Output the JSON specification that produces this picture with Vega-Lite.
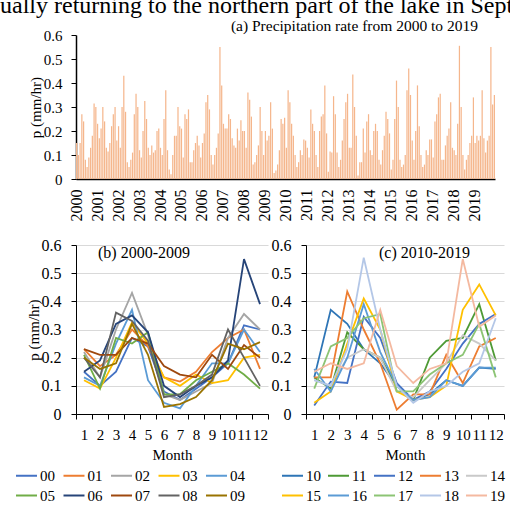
{
"$schema": "https://vega.github.io/schema/vega-lite/v6.json",
"padding": {"left": 0, "top": -7, "right": 0, "bottom": 0},
"title": {"text": "ually returning to the northern part of the lake in Sept", "anchor": "start", "fontSize": 24, "fontWeight": "normal", "font": "Liberation Serif", "color": "black", "offset": 1, "dx": -15},
"datasets": {"rain": [
{"d":"2000-01","y":"00","m":1,"p":0.15},{"d":"2000-02","y":"00","m":2,"p":0.10},{"d":"2000-03","y":"00","m":3,"p":0.15},{"d":"2000-04","y":"00","m":4,"p":0.27},{"d":"2000-05","y":"00","m":5,"p":0.24},{"d":"2000-06","y":"00","m":6,"p":0.08},{"d":"2000-07","y":"00","m":7,"p":0.05},{"d":"2000-08","y":"00","m":8,"p":0.09},{"d":"2000-09","y":"00","m":9,"p":0.13},{"d":"2000-10","y":"00","m":10,"p":0.18},{"d":"2000-11","y":"00","m":11,"p":0.315},{"d":"2000-12","y":"00","m":12,"p":0.30},
{"d":"2001-01","y":"01","m":1,"p":0.23},{"d":"2001-02","y":"01","m":2,"p":0.17},{"d":"2001-03","y":"01","m":3,"p":0.21},{"d":"2001-04","y":"01","m":4,"p":0.30},{"d":"2001-05","y":"01","m":5,"p":0.24},{"d":"2001-06","y":"01","m":6,"p":0.13},{"d":"2001-07","y":"01","m":7,"p":0.115},{"d":"2001-08","y":"01","m":8,"p":0.15},{"d":"2001-09","y":"01","m":9,"p":0.22},{"d":"2001-10","y":"01","m":10,"p":0.27},{"d":"2001-11","y":"01","m":11,"p":0.30},{"d":"2001-12","y":"01","m":12,"p":0.16},
{"d":"2002-01","y":"02","m":1,"p":0.22},{"d":"2002-02","y":"02","m":2,"p":0.13},{"d":"2002-03","y":"02","m":3,"p":0.30},{"d":"2002-04","y":"02","m":4,"p":0.43},{"d":"2002-05","y":"02","m":5,"p":0.28},{"d":"2002-06","y":"02","m":6,"p":0.07},{"d":"2002-07","y":"02","m":7,"p":0.05},{"d":"2002-08","y":"02","m":8,"p":0.08},{"d":"2002-09","y":"02","m":9,"p":0.11},{"d":"2002-10","y":"02","m":10,"p":0.27},{"d":"2002-11","y":"02","m":11,"p":0.355},{"d":"2002-12","y":"02","m":12,"p":0.30},
{"d":"2003-01","y":"03","m":1,"p":0.12},{"d":"2003-02","y":"03","m":2,"p":0.09},{"d":"2003-03","y":"03","m":3,"p":0.20},{"d":"2003-04","y":"03","m":4,"p":0.325},{"d":"2003-05","y":"03","m":5,"p":0.25},{"d":"2003-06","y":"03","m":6,"p":0.13},{"d":"2003-07","y":"03","m":7,"p":0.10},{"d":"2003-08","y":"03","m":8,"p":0.14},{"d":"2003-09","y":"03","m":9,"p":0.11},{"d":"2003-10","y":"03","m":10,"p":0.12},{"d":"2003-11","y":"03","m":11,"p":0.20},{"d":"2003-12","y":"03","m":12,"p":0.21},
{"d":"2004-01","y":"04","m":1,"p":0.13},{"d":"2004-02","y":"04","m":2,"p":0.10},{"d":"2004-03","y":"04","m":3,"p":0.25},{"d":"2004-04","y":"04","m":4,"p":0.37},{"d":"2004-05","y":"04","m":5,"p":0.12},{"d":"2004-06","y":"04","m":6,"p":0.04},{"d":"2004-07","y":"04","m":7,"p":0.02},{"d":"2004-08","y":"04","m":8,"p":0.10},{"d":"2004-09","y":"04","m":9,"p":0.18},{"d":"2004-10","y":"04","m":10,"p":0.18},{"d":"2004-11","y":"04","m":11,"p":0.30},{"d":"2004-12","y":"04","m":12,"p":0.22},
{"d":"2005-01","y":"05","m":1,"p":0.21},{"d":"2005-02","y":"05","m":2,"p":0.09},{"d":"2005-03","y":"05","m":3,"p":0.27},{"d":"2005-04","y":"05","m":4,"p":0.25},{"d":"2005-05","y":"05","m":5,"p":0.29},{"d":"2005-06","y":"05","m":6,"p":0.07},{"d":"2005-07","y":"05","m":7,"p":0.07},{"d":"2005-08","y":"05","m":8,"p":0.12},{"d":"2005-09","y":"05","m":9,"p":0.15},{"d":"2005-10","y":"05","m":10,"p":0.18},{"d":"2005-11","y":"05","m":11,"p":0.14},{"d":"2005-12","y":"05","m":12,"p":0.09},
{"d":"2006-01","y":"06","m":1,"p":0.15},{"d":"2006-02","y":"06","m":2,"p":0.19},{"d":"2006-03","y":"06","m":3,"p":0.32},{"d":"2006-04","y":"06","m":4,"p":0.35},{"d":"2006-05","y":"06","m":5,"p":0.29},{"d":"2006-06","y":"06","m":6,"p":0.10},{"d":"2006-07","y":"06","m":7,"p":0.06},{"d":"2006-08","y":"06","m":8,"p":0.10},{"d":"2006-09","y":"06","m":9,"p":0.13},{"d":"2006-10","y":"06","m":10,"p":0.19},{"d":"2006-11","y":"06","m":11,"p":0.55},{"d":"2006-12","y":"06","m":12,"p":0.39},
{"d":"2007-01","y":"07","m":1,"p":0.23},{"d":"2007-02","y":"07","m":2,"p":0.21},{"d":"2007-03","y":"07","m":3,"p":0.21},{"d":"2007-04","y":"07","m":4,"p":0.27},{"d":"2007-05","y":"07","m":5,"p":0.25},{"d":"2007-06","y":"07","m":6,"p":0.17},{"d":"2007-07","y":"07","m":7,"p":0.14},{"d":"2007-08","y":"07","m":8,"p":0.13},{"d":"2007-09","y":"07","m":9,"p":0.21},{"d":"2007-10","y":"07","m":10,"p":0.16},{"d":"2007-11","y":"07","m":11,"p":0.245},{"d":"2007-12","y":"07","m":12,"p":0.20},
{"d":"2008-01","y":"08","m":1,"p":0.20},{"d":"2008-02","y":"08","m":2,"p":0.13},{"d":"2008-03","y":"08","m":3,"p":0.36},{"d":"2008-04","y":"08","m":4,"p":0.33},{"d":"2008-05","y":"08","m":5,"p":0.26},{"d":"2008-06","y":"08","m":6,"p":0.06},{"d":"2008-07","y":"08","m":7,"p":0.07},{"d":"2008-08","y":"08","m":8,"p":0.10},{"d":"2008-09","y":"08","m":9,"p":0.14},{"d":"2008-10","y":"08","m":10,"p":0.30},{"d":"2008-11","y":"08","m":11,"p":0.20},{"d":"2008-12","y":"08","m":12,"p":0.10},
{"d":"2009-01","y":"09","m":1,"p":0.20},{"d":"2009-02","y":"09","m":2,"p":0.16},{"d":"2009-03","y":"09","m":3,"p":0.18},{"d":"2009-04","y":"09","m":4,"p":0.32},{"d":"2009-05","y":"09","m":5,"p":0.21},{"d":"2009-06","y":"09","m":6,"p":0.025},{"d":"2009-07","y":"09","m":7,"p":0.035},{"d":"2009-08","y":"09","m":8,"p":0.06},{"d":"2009-09","y":"09","m":9,"p":0.12},{"d":"2009-10","y":"09","m":10,"p":0.25},{"d":"2009-11","y":"09","m":11,"p":0.23},{"d":"2009-12","y":"09","m":12,"p":0.255},
{"d":"2010-01","y":"10","m":1,"p":0.13},{"d":"2010-02","y":"10","m":2,"p":0.37},{"d":"2010-03","y":"10","m":3,"p":0.32},{"d":"2010-04","y":"10","m":4,"p":0.23},{"d":"2010-05","y":"10","m":5,"p":0.18},{"d":"2010-06","y":"10","m":6,"p":0.10},{"d":"2010-07","y":"10","m":7,"p":0.05},{"d":"2010-08","y":"10","m":8,"p":0.07},{"d":"2010-09","y":"10","m":9,"p":0.12},{"d":"2010-10","y":"10","m":10,"p":0.10},{"d":"2010-11","y":"10","m":11,"p":0.165},{"d":"2010-12","y":"10","m":12,"p":0.16},
{"d":"2011-01","y":"11","m":1,"p":0.13},{"d":"2011-02","y":"11","m":2,"p":0.09},{"d":"2011-03","y":"11","m":3,"p":0.29},{"d":"2011-04","y":"11","m":4,"p":0.23},{"d":"2011-05","y":"11","m":5,"p":0.20},{"d":"2011-06","y":"11","m":6,"p":0.10},{"d":"2011-07","y":"11","m":7,"p":0.05},{"d":"2011-08","y":"11","m":8,"p":0.20},{"d":"2011-09","y":"11","m":9,"p":0.26},{"d":"2011-10","y":"11","m":10,"p":0.27},{"d":"2011-11","y":"11","m":11,"p":0.39},{"d":"2011-12","y":"11","m":12,"p":0.19},
{"d":"2012-01","y":"12","m":1,"p":0.03},{"d":"2012-02","y":"12","m":2,"p":0.115},{"d":"2012-03","y":"12","m":3,"p":0.11},{"d":"2012-04","y":"12","m":4,"p":0.345},{"d":"2012-05","y":"12","m":5,"p":0.27},{"d":"2012-06","y":"12","m":6,"p":0.11},{"d":"2012-07","y":"12","m":7,"p":0.05},{"d":"2012-08","y":"12","m":8,"p":0.08},{"d":"2012-09","y":"12","m":9,"p":0.16},{"d":"2012-10","y":"12","m":10,"p":0.25},{"d":"2012-11","y":"12","m":11,"p":0.32},{"d":"2012-12","y":"12","m":12,"p":0.355},
{"d":"2013-01","y":"13","m":1,"p":0.13},{"d":"2013-02","y":"13","m":2,"p":0.13},{"d":"2013-03","y":"13","m":3,"p":0.435},{"d":"2013-04","y":"13","m":4,"p":0.30},{"d":"2013-05","y":"13","m":5,"p":0.18},{"d":"2013-06","y":"13","m":6,"p":0.015},{"d":"2013-07","y":"13","m":7,"p":0.07},{"d":"2013-08","y":"13","m":8,"p":0.07},{"d":"2013-09","y":"13","m":9,"p":0.21},{"d":"2013-10","y":"13","m":10,"p":0.11},{"d":"2013-11","y":"13","m":11,"p":0.24},{"d":"2013-12","y":"13","m":12,"p":0.27},
{"d":"2014-01","y":"14","m":1,"p":0.12},{"d":"2014-02","y":"14","m":2,"p":0.10},{"d":"2014-03","y":"14","m":3,"p":0.20},{"d":"2014-04","y":"14","m":4,"p":0.23},{"d":"2014-05","y":"14","m":5,"p":0.20},{"d":"2014-06","y":"14","m":6,"p":0.08},{"d":"2014-07","y":"14","m":7,"p":0.06},{"d":"2014-08","y":"14","m":8,"p":0.12},{"d":"2014-09","y":"14","m":9,"p":0.18},{"d":"2014-10","y":"14","m":10,"p":0.28},{"d":"2014-11","y":"14","m":11,"p":0.25},{"d":"2014-12","y":"14","m":12,"p":0.19},
{"d":"2015-01","y":"15","m":1,"p":0.04},{"d":"2015-02","y":"15","m":2,"p":0.08},{"d":"2015-03","y":"15","m":3,"p":0.25},{"d":"2015-04","y":"15","m":4,"p":0.41},{"d":"2015-05","y":"15","m":5,"p":0.30},{"d":"2015-06","y":"15","m":6,"p":0.08},{"d":"2015-07","y":"15","m":7,"p":0.05},{"d":"2015-08","y":"15","m":8,"p":0.06},{"d":"2015-09","y":"15","m":9,"p":0.10},{"d":"2015-10","y":"15","m":10,"p":0.37},{"d":"2015-11","y":"15","m":11,"p":0.46},{"d":"2015-12","y":"15","m":12,"p":0.35},
{"d":"2016-01","y":"16","m":1,"p":0.16},{"d":"2016-02","y":"16","m":2,"p":0.08},{"d":"2016-03","y":"16","m":3,"p":0.20},{"d":"2016-04","y":"16","m":4,"p":0.39},{"d":"2016-05","y":"16","m":5,"p":0.22},{"d":"2016-06","y":"16","m":6,"p":0.10},{"d":"2016-07","y":"16","m":7,"p":0.05},{"d":"2016-08","y":"16","m":8,"p":0.06},{"d":"2016-09","y":"16","m":9,"p":0.12},{"d":"2016-10","y":"16","m":10,"p":0.10},{"d":"2016-11","y":"16","m":11,"p":0.165},{"d":"2016-12","y":"16","m":12,"p":0.165},
{"d":"2017-01","y":"17","m":1,"p":0.09},{"d":"2017-02","y":"17","m":2,"p":0.24},{"d":"2017-03","y":"17","m":3,"p":0.27},{"d":"2017-04","y":"17","m":4,"p":0.34},{"d":"2017-05","y":"17","m":5,"p":0.355},{"d":"2017-06","y":"17","m":6,"p":0.08},{"d":"2017-07","y":"17","m":7,"p":0.08},{"d":"2017-08","y":"17","m":8,"p":0.14},{"d":"2017-09","y":"17","m":9,"p":0.18},{"d":"2017-10","y":"17","m":10,"p":0.21},{"d":"2017-11","y":"17","m":11,"p":0.32},{"d":"2017-12","y":"17","m":12,"p":0.13},
{"d":"2018-01","y":"18","m":1,"p":0.12},{"d":"2018-02","y":"18","m":2,"p":0.10},{"d":"2018-03","y":"18","m":3,"p":0.23},{"d":"2018-04","y":"18","m":4,"p":0.555},{"d":"2018-05","y":"18","m":5,"p":0.30},{"d":"2018-06","y":"18","m":6,"p":0.10},{"d":"2018-07","y":"18","m":7,"p":0.04},{"d":"2018-08","y":"18","m":8,"p":0.08},{"d":"2018-09","y":"18","m":9,"p":0.10},{"d":"2018-10","y":"18","m":10,"p":0.15},{"d":"2018-11","y":"18","m":11,"p":0.18},{"d":"2018-12","y":"18","m":12,"p":0.34},
{"d":"2019-01","y":"19","m":1,"p":0.15},{"d":"2019-02","y":"19","m":2,"p":0.18},{"d":"2019-03","y":"19","m":3,"p":0.16},{"d":"2019-04","y":"19","m":4,"p":0.18},{"d":"2019-05","y":"19","m":5,"p":0.37},{"d":"2019-06","y":"19","m":6,"p":0.17},{"d":"2019-07","y":"19","m":7,"p":0.11},{"d":"2019-08","y":"19","m":8,"p":0.16},{"d":"2019-09","y":"19","m":9,"p":0.18},{"d":"2019-10","y":"19","m":10,"p":0.55},{"d":"2019-11","y":"19","m":11,"p":0.31},{"d":"2019-12","y":"19","m":12,"p":0.35}
]},
"bounds": "flush",
"spacing": 66,
"vconcat": [
 {
  "data": {"name": "rain"},
  "width": 419, "height": 144,
  "title": {"text": "(a) Precipitation rate from 2000 to 2019", "anchor": "end", "frame": "group", "fontSize": 15.5, "fontWeight": "normal", "font": "Liberation Serif", "color": "black", "offset": -6, "dx": -17},
  "mark": {"type": "bar", "color": "#F5B68C"},
  "encoding": {
   "x": {"field": "d", "type": "ordinal", "scale": {"paddingInner": 0.3, "paddingOuter": 0},
    "axis": {"title": null, "labelAngle": 270, "labelOverlap": false, "ticks": false, "labelPadding": 10, "labelFontSize": 16,
     "labelExpr": "substring(datum.value, 5, 7) == '01' ? substring(datum.value, 0, 4) : ''", "domainWidth": 1.5}},
   "y": {"field": "p", "type": "quantitative", "scale": {"domain": [0, 0.6]},
    "axis": {"title": "p (mm/hr)", "values": [0, 0.1, 0.2, 0.3, 0.4, 0.5, 0.6], "format": ".1~f", "grid": false, "tickSize": 5, "labelPadding": 9, "titlePadding": 0, "domainWidth": 1.5}}
  }
 },
 {
  "bounds": "flush",
  "spacing": 38,
  "resolve": {"scale": {"color": "independent"}, "legend": {"color": "independent"}},
  "hconcat": [
   {
    "data": {"name": "rain"},
    "transform": [{"filter": {"field": "y", "oneOf": ["00","01","02","03","04","05","06","07","08","09"]}}],
    "width": 192, "height": 169,
    "title": {"text": "(b) 2000-2009", "anchor": "start", "frame": "group", "fontSize": 16, "fontWeight": "normal", "font": "Liberation Serif", "color": "black", "offset": -24, "dx": 22},
    "mark": {"type": "line", "strokeWidth": 1.8},
    "encoding": {
     "x": {"field": "m", "type": "ordinal", "scale": {"type": "band", "paddingInner": 0, "paddingOuter": 0},
      "axis": {"title": "Month", "labelAngle": 0, "tickBand": "extent", "labelOverlap": false, "tickSize": 5, "labelPadding": 8, "titlePadding": 5}},
     "y": {"field": "p", "type": "quantitative", "scale": {"domain": [0, 0.6]},
      "axis": {"title": "p (mm/hr)", "values": [0, 0.1, 0.2, 0.3, 0.4, 0.5, 0.6], "format": ".1~f", "grid": true, "gridColor": "#D9D9D9", "tickSize": 5, "labelPadding": 10, "titlePadding": 0, "labelFontSize": 16}},
     "color": {"field": "y", "type": "nominal",
      "scale": {"domain": ["00","01","02","03","04","05","06","07","08","09"], "range": ["#4472C4","#ED7D31","#A5A5A5","#FFC000","#5B9BD5","#70AD47","#264478","#9E480E","#636363","#997300"]},
      "legend": {"title": null, "orient": "none", "legendX": -61, "legendY": 219, "direction": "horizontal", "columns": 5, "columnPadding": 4.5}}
    }
   },
   {
    "data": {"name": "rain"},
    "transform": [{"filter": {"field": "y", "oneOf": ["10","11","12","13","14","15","16","17","18","19"]}}],
    "width": 198, "height": 169,
    "title": {"text": "(c) 2010-2019", "anchor": "start", "frame": "group", "fontSize": 16, "fontWeight": "normal", "font": "Liberation Serif", "color": "black", "offset": -24, "dx": 73},
    "mark": {"type": "line", "strokeWidth": 1.8},
    "encoding": {
     "x": {"field": "m", "type": "ordinal", "scale": {"type": "band", "paddingInner": 0, "paddingOuter": 0},
      "axis": {"title": "Month", "labelAngle": 0, "tickBand": "extent", "labelOverlap": false, "tickSize": 5, "labelPadding": 8, "titlePadding": 5}},
     "y": {"field": "p", "type": "quantitative", "scale": {"domain": [0, 0.6]},
      "axis": {"title": null, "values": [0, 0.1, 0.2, 0.3, 0.4, 0.5, 0.6], "format": ".1~f", "grid": true, "gridColor": "#D9D9D9", "tickSize": 5, "labelPadding": 10, "labelFontSize": 16}},
     "color": {"field": "y", "type": "nominal",
      "scale": {"domain": ["10","11","12","13","14","15","16","17","18","19"], "range": ["#2E75B6","#4E9A35","#4472C4","#ED7D31","#C9C9C9","#FFC000","#5B9BD5","#8CC474","#B4C7E7","#F4B9A0"]},
      "legend": {"title": null, "orient": "none", "legendX": -25, "legendY": 219, "direction": "horizontal", "columns": 5, "columnPadding": 3}}
    }
   }
  ]
 }
],
"config": {
 "font": "Liberation Serif",
 "view": {"stroke": null},
 "axis": {"labelFont": "Liberation Serif", "titleFont": "Liberation Serif", "labelColor": "black", "titleColor": "black", "titleFontWeight": "normal", "labelFontSize": 15, "titleFontSize": 15, "domainColor": "black", "tickColor": "black", "grid": false},
 "legend": {"labelFont": "Liberation Serif", "labelFontSize": 15, "labelColor": "black", "symbolType": "stroke", "symbolSize": 441, "symbolStrokeWidth": 2, "labelOffset": 2, "columnPadding": 2, "rowPadding": -6}
}
}
